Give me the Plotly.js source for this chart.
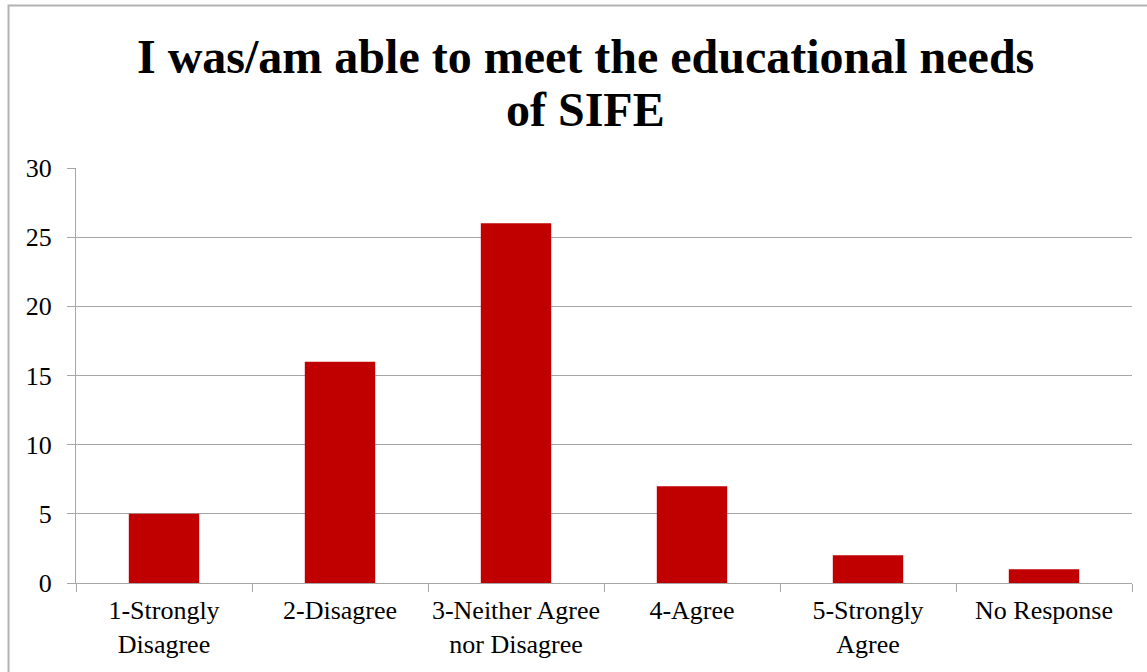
<!DOCTYPE html>
<html>
<head>
<meta charset="utf-8">
<script src="https://cdn.plot.ly/plotly-3.0.1.min.js"></script>
<style>
  html, body { margin: 0; padding: 0; background: #ffffff; }
  #chart { width: 1147px; height: 672px; }
</style>
</head>
<body>
<div id="chart"></div>
<script>
// Survey responses: "I was/am able to meet the educational needs of SIFE"
const categories = [
  "1-Strongly<br>Disagree",
  "2-Disagree",
  "3-Neither Agree<br>nor Disagree",
  "4-Agree",
  "5-Strongly<br>Agree",
  "No Response"
];
const counts = [5, 16, 26, 7, 2, 1];
const yTicks = [0, 5, 10, 15, 20, 25, 30];
const titleLines = ["I was/am able to meet the educational needs", "of SIFE"];

const W = 1147, H = 672;
const margin = { l: 76, r: 15, t: 168, b: 89 };
const plotW = W - margin.l - margin.r;
const plotH = H - margin.t - margin.b;
// convert pixel positions on the page into paper fractions
const px = x => (x - margin.l) / plotW;
const py = y => 1 - (y - margin.t) / plotH;

const serif = "'Liberation Serif', 'Times New Roman', serif";
const gridGray = "#a6a6a6";

const data = [{
  type: "bar",
  x: categories,
  y: counts,
  marker: { color: "#c00000" },
  hoverinfo: "x+y"
}];

// two-line bold title, each line placed on its own
const titleAnnotations = titleLines.map((line, i) => ({
  text: "<b>" + line + "</b>",
  xref: "paper",
  yref: "paper",
  x: px(585),
  y: py(57 + i * 53),
  xanchor: "center",
  yanchor: "middle",
  showarrow: false,
  font: { family: serif, size: 48, color: "#000000" }
}));

const layout = {
  width: W,
  height: H,
  margin: margin,
  paper_bgcolor: "#ffffff",
  plot_bgcolor: "#ffffff",
  showlegend: false,
  bargap: 0.6,
  font: { family: serif, size: 26, color: "#000000" },
  xaxis: {
    type: "category",
    showgrid: false,
    showline: true,
    linecolor: gridGray,
    linewidth: 1,
    ticks: "outside",
    tickson: "boundaries",
    ticklen: 8,
    tickcolor: gridGray,
    tickangle: 0,
    ticklabelstandoff: 4,
    tickfont: { family: serif, size: 26, color: "#000000" },
    fixedrange: true
  },
  yaxis: {
    range: [0, 30],
    tickvals: yTicks,
    showgrid: true,
    gridcolor: gridGray,
    gridwidth: 1,
    zeroline: false,
    showline: true,
    linecolor: gridGray,
    linewidth: 1,
    ticks: "outside",
    ticklen: 8,
    tickcolor: gridGray,
    ticklabelstandoff: 10,
    tickfont: { family: serif, size: 26, color: "#000000" },
    fixedrange: true
  },
  annotations: titleAnnotations,
  shapes: [{
    type: "rect",
    xref: "paper",
    yref: "paper",
    x0: px(8.5),
    x1: px(1160),
    y0: py(5.5),
    y1: py(690),
    line: { color: "#b3b3b3", width: 2 },
    fillcolor: "rgba(0,0,0,0)",
    layer: "below"
  }]
};

Plotly.newPlot("chart", data, layout, { displayModeBar: false, staticPlot: true });
</script>
</body>
</html>
